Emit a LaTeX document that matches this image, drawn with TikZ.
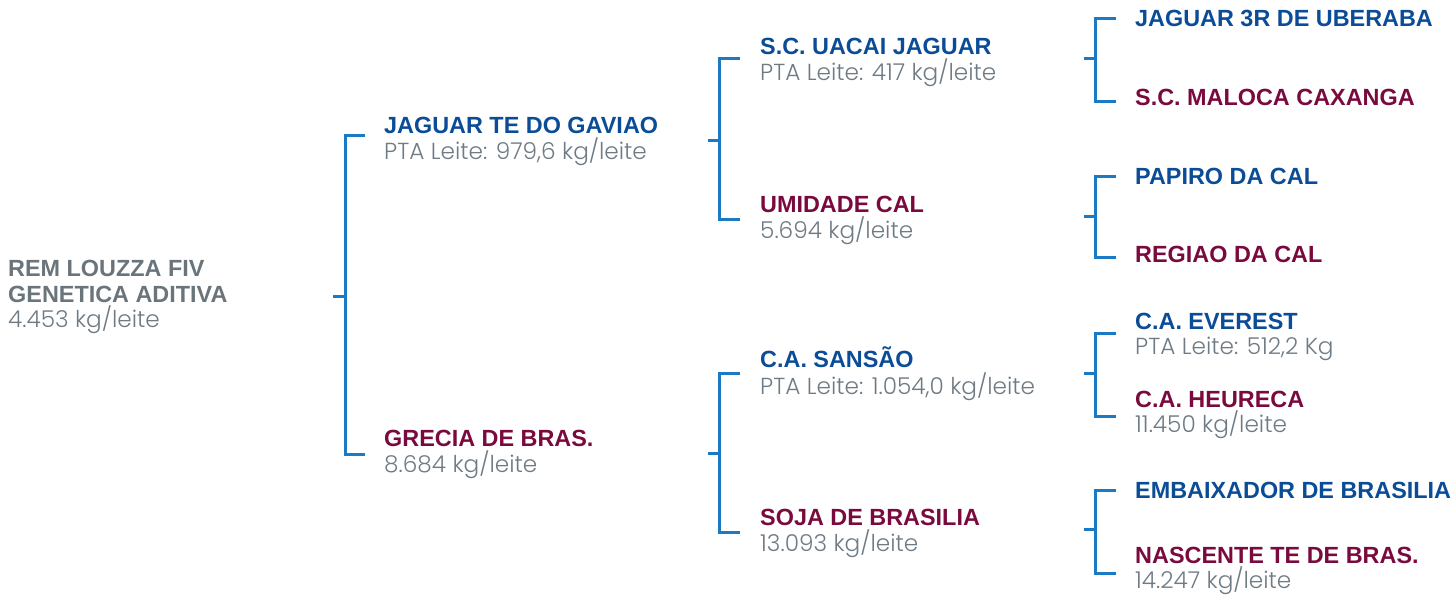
\documentclass[tikz,border=0pt]{standalone}
\usepackage{fontspec}
\setmainfont{Liberation Sans}
\newfontfamily\poplight{Poppins}[UprightFont=* Light]
\definecolor{nblue}{HTML}{0B4C97}
\definecolor{nmaroon}{HTML}{7A0A3E}
\definecolor{ngray}{HTML}{6F7B84}
\definecolor{rgray}{HTML}{6A747B}
\definecolor{lblue}{HTML}{1A7AC4}
\tikzset{
  nm/.style={anchor=base west, inner sep=0pt, font=\fontsize{23.4}{23.4}\selectfont\bfseries},
  bn/.style={nm, text=nblue},
  mn/.style={nm, text=nmaroon},
  rn/.style={nm, text=rgray},
  val/.style={anchor=base west, inner sep=0pt, font=\poplight\fontsize{23.2}{23.2}\selectfont, text=ngray},
  br/.style={draw=lblue, line width=3pt, line join=miter}
}
\begin{document}
\begin{tikzpicture}[x=1pt,y=-1pt]
\useasboundingbox (0,0) rectangle (1450,594);
% root
\node[rn] (r1) at (8,276) {REM LOUZZA FIV};
\node[rn] (r2) at (8,302) {GENETICA ADITIVA};
\node[val] (r3) at (8,327) {4.453 kg/leite};
% level 1
\node[bn] (a1) at (384,133) {JAGUAR TE DO GAVIAO};
\node[val] (a1v) at (384,159) {PTA Leite: 979,6 kg/leite};
\node[mn] (a2) at (384,446) {GRECIA DE BRAS.};
\node[val] (a2v) at (384,472) {8.684 kg/leite};
% level 2
\node[bn] (b1) at (760,55) {S.C. UACAI JAGUAR};
\node[val] (b1v) at (760,81) {PTA Leite: 417 kg/leite};
\node[mn] (b2) at (760,212) {UMIDADE CAL};
\node[val] (b2v) at (760,238) {5.694 kg/leite};
\node[bn] (b3) at (760,367) {C.A. SANSÃO};
\node[val] (b3v) at (760,394) {PTA Leite: 1.054,0 kg/leite};
\node[mn] (b4) at (760,525) {SOJA DE BRASILIA};
\node[val] (b4v) at (760,551) {13.093 kg/leite};
% level 3
\node[bn] (c1) at (1135,27) {JAGUAR 3R DE UBERABA};
\node[mn] (c2) at (1135,105) {S.C. MALOCA CAXANGA};
\node[bn] (c3) at (1135,184) {PAPIRO DA CAL};
\node[mn] (c4) at (1135,262) {REGIAO DA CAL};
\node[bn] (c5) at (1135,329) {C.A. EVEREST};
\node[val] (c5v) at (1135,354) {PTA Leite: 512,2 Kg};
\node[mn] (c6) at (1135,407) {C.A. HEURECA};
\node[val] (c6v) at (1135,432) {11.450 kg/leite};
\node[bn] (c7) at (1135,498) {EMBAIXADOR DE BRASILIA};
\node[mn] (c8) at (1135,563) {NASCENTE TE DE BRAS.};
\node[val] (c8v) at (1135,588) {14.247 kg/leite};
% bracket coordinates
\coordinate (k1s) at (333,296); \coordinate (k1m) at (345,296);
\coordinate (k1ta) at (365,135); \coordinate (k1t) at (345,135);
\coordinate (k1b) at (345,454); \coordinate (k1ba) at (365,454);
\coordinate (k2s) at (708,140); \coordinate (k2m) at (719,140);
\coordinate (k2ta) at (740,59); \coordinate (k2t) at (719,59);
\coordinate (k2b) at (719,219); \coordinate (k2ba) at (740,219);
\coordinate (k3s) at (708,453); \coordinate (k3m) at (719,453);
\coordinate (k3ta) at (740,373); \coordinate (k3t) at (719,373);
\coordinate (k3b) at (719,532); \coordinate (k3ba) at (740,532);
\coordinate (kAs) at (1084,59); \coordinate (kAm) at (1095,59);
\coordinate (kAta) at (1116,19); \coordinate (kAt) at (1095,19);
\coordinate (kAb) at (1095,101); \coordinate (kAba) at (1116,101);
\coordinate (kBs) at (1084,216); \coordinate (kBm) at (1095,216);
\coordinate (kBta) at (1116,176); \coordinate (kBt) at (1095,176);
\coordinate (kBb) at (1095,257); \coordinate (kBba) at (1116,257);
\coordinate (kCs) at (1084,373); \coordinate (kCm) at (1095,373);
\coordinate (kCta) at (1116,333); \coordinate (kCt) at (1095,333);
\coordinate (kCb) at (1095,416); \coordinate (kCba) at (1116,416);
\coordinate (kDs) at (1084,529); \coordinate (kDm) at (1095,529);
\coordinate (kDta) at (1116,490); \coordinate (kDt) at (1095,490);
\coordinate (kDb) at (1095,573); \coordinate (kDba) at (1116,573);
% brackets
\foreach \k in {1,2,3,A,B,C,D}{
  \draw[br] (k\k ta) -- (k\k t) -- (k\k b) -- (k\k ba);
  \draw[br] (k\k s) -- (k\k m);
}
\end{tikzpicture}
\end{document}
